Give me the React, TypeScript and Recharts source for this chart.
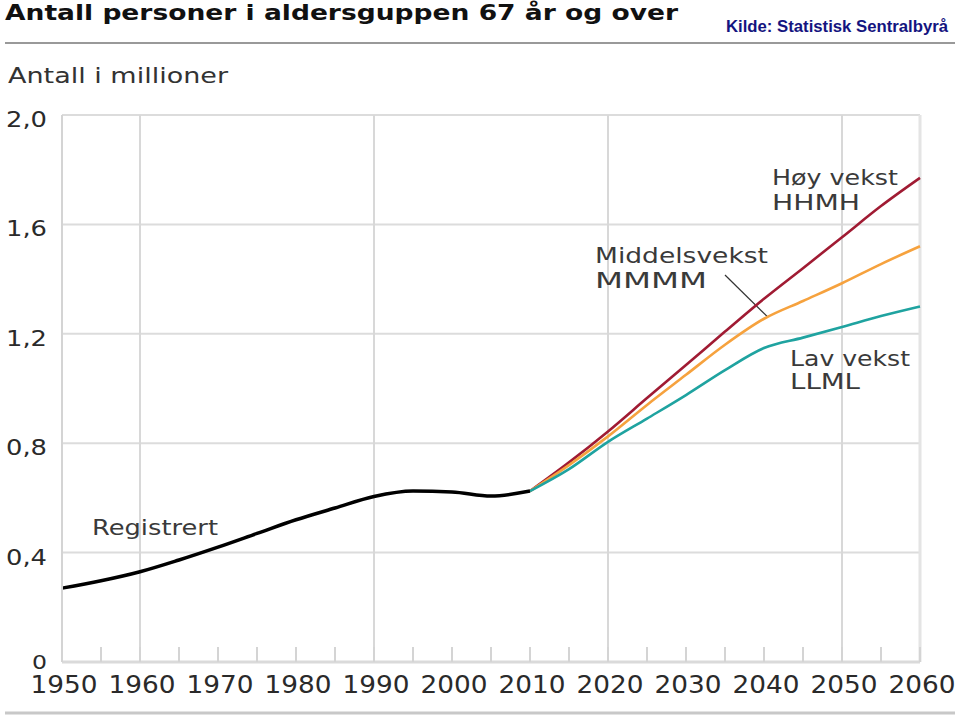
import { LineChart, Line, XAxis, YAxis, CartesianGrid, ReferenceLine } from "recharts";

const years = [1950, 1955, 1960, 1965, 1970, 1975, 1980, 1985, 1990, 1995, 2000, 2005, 2010, 2015, 2020, 2025, 2030, 2035, 2040, 2045, 2050, 2055, 2060];
const registrert = [0.27, 0.297, 0.33, 0.373, 0.42, 0.47, 0.52, 0.563, 0.605, 0.625, 0.622, 0.607, 0.625];
const hoyVekst = [0.625, 0.73, 0.843, 0.965, 1.086, 1.208, 1.328, 1.44, 1.553, 1.667, 1.77];
const middelsvekst = [0.625, 0.72, 0.825, 0.94, 1.05, 1.16, 1.255, 1.32, 1.385, 1.455, 1.52];
const lavVekst = [0.625, 0.705, 0.805, 0.89, 0.976, 1.067, 1.148, 1.186, 1.225, 1.265, 1.3];

const yTicks = [0, 0.4, 0.8, 1.2, 1.6, 2.0];
const gridYears = [1960, 1990, 2020, 2050, 2060];
const projStart = 2010;

const data = years.map((year, i) => {
  const j = i - years.indexOf(projStart);
  return {
    year,
    registrert: i < registrert.length ? registrert[i] : null,
    hoy: j >= 0 ? hoyVekst[j] : null,
    middels: j >= 0 ? middelsvekst[j] : null,
    lav: j >= 0 ? lavVekst[j] : null,
  };
});

const FONT = "'DejaVu Sans', sans-serif";
const FIT = "spacingAndGlyphs";

function XTick({ x, y, payload }: any) {
  const v = payload.value;
  return (
    <g>
      <line x1={x} x2={x} y1={y - 15} y2={y} stroke="#d4d4d4" strokeWidth={2} />
      {v % 10 === 0 && (
        <text x={x + 2} y={y + 31} textAnchor="middle" fontFamily={FONT} fontSize={24} fill="#2a2a2a" textLength={67} lengthAdjust={FIT}>
          {v}
        </text>
      )}
    </g>
  );
}

function YTick({ x, y, payload }: any) {
  const v = payload.value;
  const label = v === 0 ? "0" : v.toFixed(1).replace(".", ",");
  return (
    <text x={x} y={y + (v === 0 ? 7 : 12)} textAnchor="end" fontFamily={FONT} fontSize={v === 0 ? 19 : 21} fill="#2a2a2a" textLength={v === 0 ? 15 : 41} lengthAdjust={FIT}>
      {label}
    </text>
  );
}

const textStyle = { fontFamily: FONT, fontSize: 21, fill: "#3a3a3a", lengthAdjust: FIT };

export default function App() {
  return (
    <div style={{ position: "absolute", left: 0, top: 0, width: 959, height: 717, background: "#fff" }}>
      <LineChart width={959} height={717} data={data} margin={{ top: 115, right: 39, bottom: 0, left: 0 }}>
        <CartesianGrid vertical={false} stroke="#dcdcdc" strokeWidth={2} />
        {gridYears.map((g) => (
          <ReferenceLine key={g} x={g} stroke={g === 2060 ? "#e4e4e4" : "#d8d8d8"} strokeWidth={g === 2060 ? 3 : 2} />
        ))}
        <ReferenceLine
          segment={[{ x: 2035, y: 1.415 }, { x: 2040.5, y: 1.261 }]}
          stroke="#333"
          strokeWidth={1.2}
        />
        <XAxis
          dataKey="year"
          type="number"
          domain={[1950, 2060]}
          ticks={years}
          height={55}
          tickSize={0}
          tickMargin={0}
          tickLine={false}
          axisLine={{ stroke: "#dadada", strokeWidth: 3 }}
          tick={<XTick />}
          interval={0}
        />
        <YAxis
          type="number"
          domain={[0, 2]}
          ticks={yTicks}
          width={62}
          tickSize={0}
          tickMargin={15}
          tickLine={false}
          axisLine={{ stroke: "#d4d4d4", strokeWidth: 2 }}
          tick={<YTick />}
          interval={0}
        />
        <Line dataKey="hoy" stroke="#a01b33" strokeWidth={2.6} dot={false} type="monotone" isAnimationActive={false} />
        <Line dataKey="middels" stroke="#f6a23e" strokeWidth={2.6} dot={false} type="monotone" isAnimationActive={false} />
        <Line dataKey="lav" stroke="#1fa3a0" strokeWidth={2.6} dot={false} type="monotone" isAnimationActive={false} />
        <Line dataKey="registrert" stroke="#000" strokeWidth={3.5} dot={false} type="monotone" isAnimationActive={false} />
      </LineChart>
      <svg width={959} height={717} style={{ position: "absolute", left: 0, top: 0, pointerEvents: "none" }}>
        <text x={5} y={20} fontFamily={FONT} fontWeight="bold" fontSize={21} fill="#111" textLength={673} lengthAdjust={FIT}>
          Antall personer i aldersguppen 67 år og over
        </text>
        <text x={726} y={32} fontFamily="'Liberation Sans', Arial, sans-serif" fontWeight="bold" fontSize={17} fill="#141480" textLength={222} lengthAdjust={FIT}>
          Kilde: Statistisk Sentralbyrå
        </text>
        <line x1={5} x2={955} y1={43} y2={43} stroke="#999" strokeWidth={2} />
        <text x={8} y={83} fontFamily={FONT} fontSize={22} fill="#333" textLength={220} lengthAdjust={FIT}>
          Antall i millioner
        </text>
        <text x={772} y={185} {...textStyle} textLength={126}>Høy vekst</text>
        <text x={772} y={210} {...textStyle} textLength={88}>HHMH</text>
        <text x={595} y={263} {...textStyle} textLength={173}>Middelsvekst</text>
        <text x={595} y={288} {...textStyle} textLength={112}>MMMM</text>
        <text x={790} y={366} {...textStyle} textLength={120}>Lav vekst</text>
        <text x={790} y={389} {...textStyle} textLength={70}>LLML</text>
        <text x={92} y={535} {...textStyle} fontSize={22} textLength={126}>Registrert</text>
        <line x1={5} x2={955} y1={713} y2={713} stroke="#c8c8c8" strokeWidth={3} />
      </svg>
    </div>
  );
}
